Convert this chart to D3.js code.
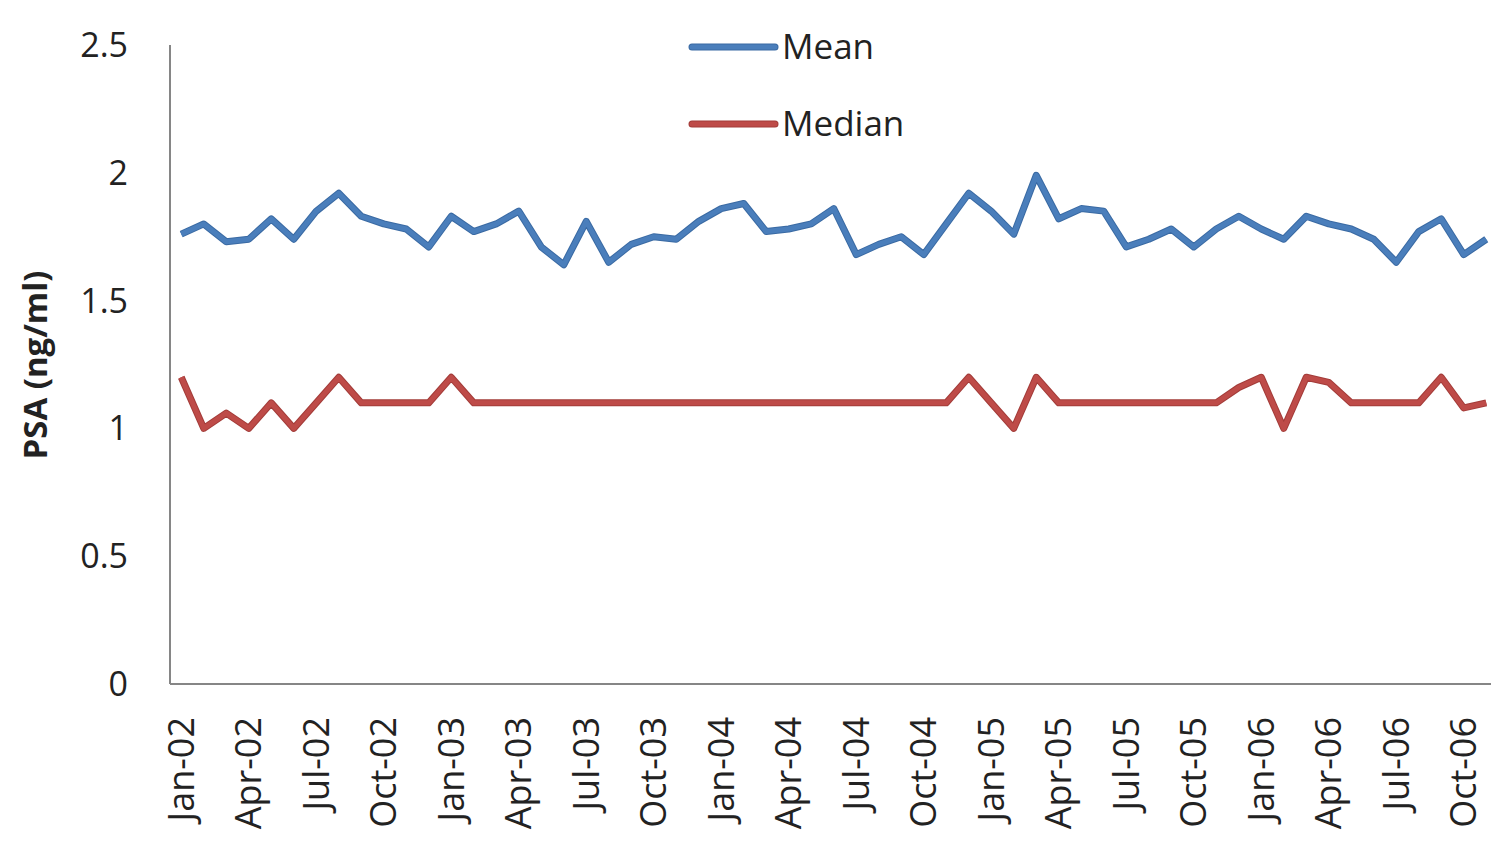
<html>
<head>
<meta charset="utf-8">
<script src="https://cdn.jsdelivr.net/npm/d3@7"></script>
<style>
  body { margin: 0; background: #fff; }
  text { font-family: "Open Sans", Lato, sans-serif; fill: #222; }
</style>
</head>
<body>
<div id="chart"></div>
<script>
// monthly categories, Jan-02 .. Nov-06
var months = ["Jan-02","Feb-02","Mar-02","Apr-02","May-02","Jun-02","Jul-02","Aug-02","Sep-02","Oct-02","Nov-02","Dec-02",
              "Jan-03","Feb-03","Mar-03","Apr-03","May-03","Jun-03","Jul-03","Aug-03","Sep-03","Oct-03","Nov-03","Dec-03",
              "Jan-04","Feb-04","Mar-04","Apr-04","May-04","Jun-04","Jul-04","Aug-04","Sep-04","Oct-04","Nov-04","Dec-04",
              "Jan-05","Feb-05","Mar-05","Apr-05","May-05","Jun-05","Jul-05","Aug-05","Sep-05","Oct-05","Nov-05","Dec-05",
              "Jan-06","Feb-06","Mar-06","Apr-06","May-06","Jun-06","Jul-06","Aug-06","Sep-06","Oct-06","Nov-06"];

var meanPSA = [1.76,1.80,1.73,1.74,1.82,1.74,1.85,1.92,1.83,1.80,1.78,1.71,
               1.83,1.77,1.80,1.85,1.71,1.64,1.81,1.65,1.72,1.75,1.74,1.81,
               1.86,1.88,1.77,1.78,1.80,1.86,1.68,1.72,1.75,1.68,1.80,1.92,
               1.85,1.76,1.99,1.82,1.86,1.85,1.71,1.74,1.78,1.71,1.78,1.83,
               1.78,1.74,1.83,1.80,1.78,1.74,1.65,1.77,1.82,1.68,1.74];

var medianPSA = [1.20,1.00,1.06,1.00,1.10,1.00,1.10,1.20,1.10,1.10,1.10,1.10,
                 1.20,1.10,1.10,1.10,1.10,1.10,1.10,1.10,1.10,1.10,1.10,1.10,
                 1.10,1.10,1.10,1.10,1.10,1.10,1.10,1.10,1.10,1.10,1.10,1.20,
                 1.10,1.00,1.20,1.10,1.10,1.10,1.10,1.10,1.10,1.10,1.10,1.16,
                 1.20,1.00,1.20,1.18,1.10,1.10,1.10,1.10,1.20,1.08,1.10];

var yTicks = [0, 0.5, 1, 1.5, 2, 2.5];
var shownMonths = ["Jan","Apr","Jul","Oct"];

var width = 1491, height = 843;
var plotLeft = 170, plotTop = 45, plotBottom = 684;

var svg = d3.select("#chart").append("svg")
    .attr("width", width)
    .attr("height", height);

var x = d3.scaleBand()
    .domain(months)
    .range([plotLeft, plotLeft + months.length * 22.5])
    .padding(0);

var y = d3.scaleLinear()
    .domain([0, 2.5])
    .range([plotBottom, plotTop]);

function cx(m) { return x(m) + x.bandwidth() / 2; }

// axes lines
svg.append("line")
    .attr("x1", plotLeft).attr("x2", plotLeft)
    .attr("y1", plotTop).attr("y2", plotBottom)
    .attr("stroke", "#868686").attr("stroke-width", 2);
svg.append("line")
    .attr("x1", plotLeft).attr("x2", width)
    .attr("y1", plotBottom).attr("y2", plotBottom)
    .attr("stroke", "#868686").attr("stroke-width", 2);

// y tick labels
svg.selectAll(".ytick")
    .data(yTicks)
    .enter()
    .append("text")
    .attr("class", "ytick")
    .attr("x", 128)
    .attr("y", function(d) { return y(d); })
    .attr("dy", "0.35em")
    .attr("text-anchor", "end")
    .attr("font-size", "34px")
    .text(function(d) { return d; });

// x tick labels, every third month
svg.selectAll(".xtick")
    .data(months.filter(function(m) { return shownMonths.indexOf(m.slice(0, 3)) >= 0; }))
    .enter()
    .append("text")
    .attr("class", "xtick")
    .attr("transform", function(d) { return "translate(" + cx(d) + ",717) rotate(-90)"; })
    .attr("dy", "0.35em")
    .attr("text-anchor", "end")
    .attr("font-size", "36px")
    .text(function(d) { return d; });

// y axis title
svg.append("text")
    .attr("transform", "translate(35,365) rotate(-90)")
    .attr("dy", "0.35em")
    .attr("text-anchor", "middle")
    .attr("font-size", "33px")
    .attr("font-weight", "bold")
    .text("PSA (ng/ml)");

// series lines
var series = [
  { name: "Mean", values: meanPSA, color: "#4a7ebb", edge: "#3a6aa3" },
  { name: "Median", values: medianPSA, color: "#be4b48", edge: "#a33c39" }
];

var line = d3.line()
    .x(function(d, i) { return cx(months[i]); })
    .y(function(d) { return y(d); });

series.forEach(function(s) {
  svg.append("path")
      .datum(s.values)
      .attr("fill", "none")
      .attr("stroke", s.edge)
      .attr("stroke-width", 7)
      .attr("stroke-linejoin", "round")
      .attr("d", line);
  svg.append("path")
      .datum(s.values)
      .attr("fill", "none")
      .attr("stroke", s.color)
      .attr("stroke-width", 5)
      .attr("stroke-linejoin", "round")
      .attr("d", line);
});

// legend
var legend = svg.selectAll(".legend")
    .data(series)
    .enter()
    .append("g")
    .attr("class", "legend")
    .attr("transform", function(d, i) { return "translate(692," + (47 + i * 77) + ")"; });

legend.append("line")
    .attr("x1", 0).attr("x2", 83)
    .attr("stroke", function(d) { return d.edge; })
    .attr("stroke-width", 7)
    .attr("stroke-linecap", "round");
legend.append("line")
    .attr("x1", 0).attr("x2", 83)
    .attr("stroke", function(d) { return d.color; })
    .attr("stroke-width", 5)
    .attr("stroke-linecap", "round");
legend.append("text")
    .attr("x", 90)
    .attr("dy", "0.35em")
    .attr("font-size", "35px")
    .text(function(d) { return d.name; });
</script>
</body>
</html>
